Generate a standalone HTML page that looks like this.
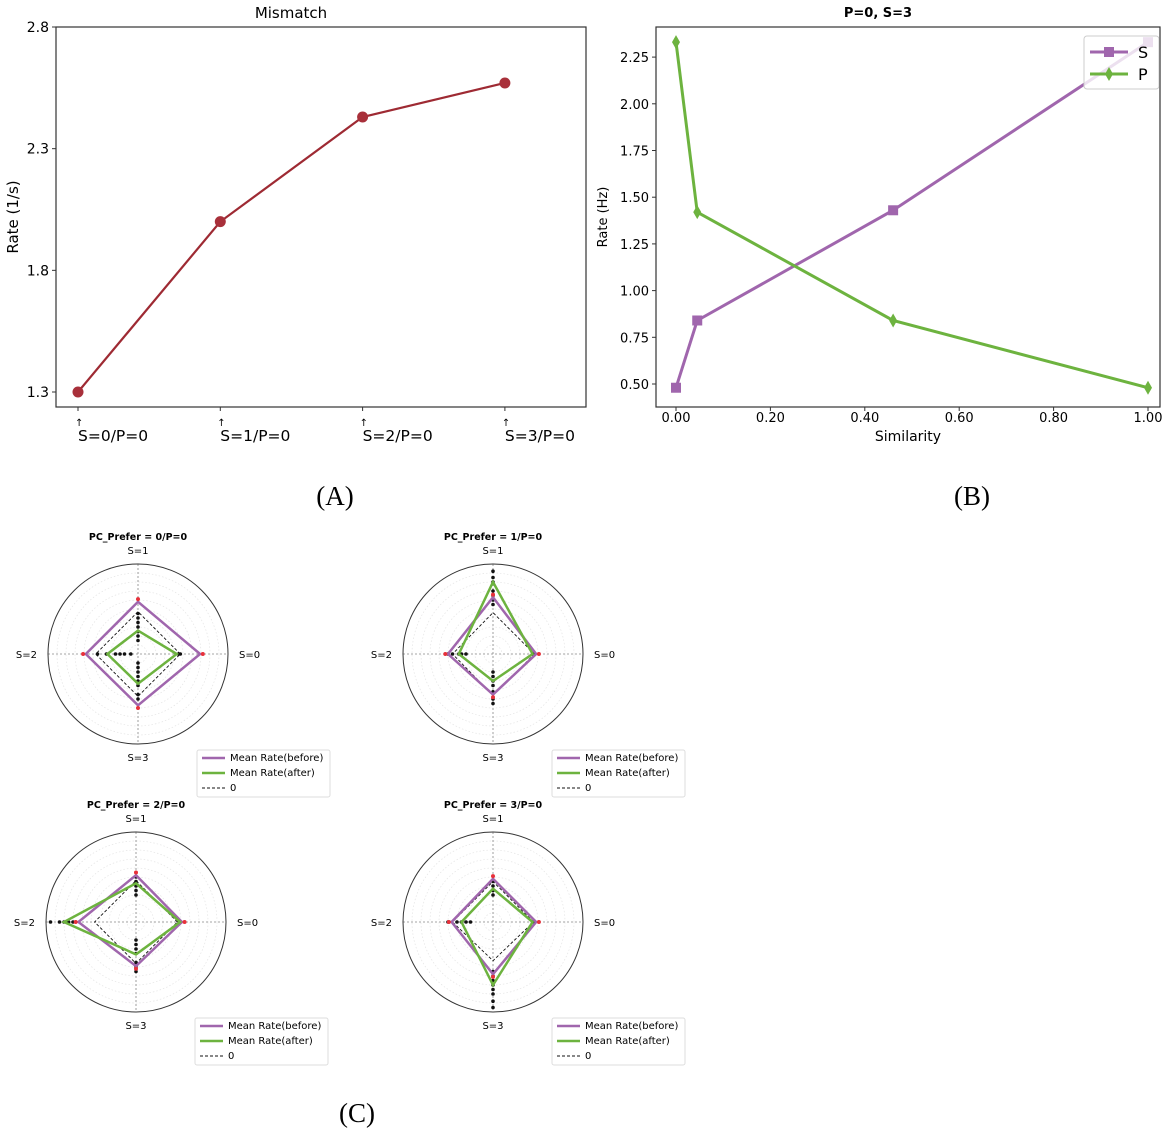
<!DOCTYPE html>
<html><head><meta charset="utf-8"><style>
body{margin:0;background:#fff;}
svg{display:block;font-family:"DejaVu Sans","Liberation Sans",sans-serif;}
</style></head><body>
<svg id="fig" width="1170" height="1136" viewBox="0 0 1170 1136" xmlns="http://www.w3.org/2000/svg">
<g id="pa"></g>
<g id="pb"></g>
<g id="pc"></g>
<text x="335" y="505" font-family="Liberation Serif,serif" font-size="27" text-anchor="middle">(A)</text>
<text x="972" y="505" font-family="Liberation Serif,serif" font-size="27" text-anchor="middle">(B)</text>
<text x="357" y="1122" font-family="Liberation Serif,serif" font-size="27" text-anchor="middle">(C)</text>
</svg>
<script>
// ---- Panel A data
const aCategories = ["S=0/P=0","S=1/P=0","S=2/P=0","S=3/P=0"];
const aValues = [1.30, 2.00, 2.43, 2.57];
const aTicks = [1.3, 1.8, 2.3, 2.8];
// ---- Panel B data
const bSimilarity = [0.0, 0.045, 0.46, 1.0];
const bS = [0.48, 0.84, 1.43, 2.33];
const bP = [2.33, 1.42, 0.84, 0.48];
const bYTicks = [0.50, 0.75, 1.00, 1.25, 1.50, 1.75, 2.00, 2.25];
const bXTicks = [0.0, 0.2, 0.4, 0.6, 0.8, 1.0];
// ---- Panel C data (fraction of radius), axes order S=0,S=1,S=2,S=3
const cTitles = ["PC_Prefer = 0/P=0","PC_Prefer = 1/P=0","PC_Prefer = 2/P=0","PC_Prefer = 3/P=0"];
const cBefore = [[0.69,0.58,0.58,0.57],[0.48,0.63,0.50,0.45],[0.51,0.52,0.64,0.49],[0.48,0.48,0.46,0.58]];
const cAfter = [[0.43,0.26,0.34,0.33],[0.44,0.80,0.38,0.30],[0.49,0.43,0.80,0.36],[0.44,0.37,0.35,0.70]];
const cZero = [[0.47,0.47,0.47,0.47],[0.46,0.46,0.45,0.46],[0.46,0.46,0.46,0.46],[0.45,0.45,0.45,0.43]];
const cDots = [
 [[0.45,0.47],[0.15,0.2,0.25,0.3,0.35,0.4,0.45],[0.08,0.15,0.2,0.25,0.35,0.45],[0.1,0.15,0.2,0.25,0.3,0.35,0.45,0.5]],
 [[0.44,0.46],[0.55,0.6,0.65,0.7,0.8,0.85,0.92],[0.3,0.35,0.38,0.45,0.5],[0.2,0.25,0.3,0.35,0.42,0.5,0.55]],
 [[0.48,0.5],[0.3,0.35,0.4,0.45,0.5],[0.7,0.75,0.8,0.85,0.95],[0.2,0.25,0.3,0.35,0.45,0.5,0.55]],
 [[0.44,0.46],[0.3,0.35,0.4,0.45],[0.25,0.3,0.35,0.4,0.5],[0.55,0.6,0.65,0.7,0.75,0.8,0.88,0.95]]
];
const cAxisLabels = ["S=0","S=1","S=2","S=3"];

const NS="http://www.w3.org/2000/svg";
function mk(parent,tag,attrs,text){const e=document.createElementNS(NS,tag);for(const k in attrs)e.setAttribute(k,attrs[k]);if(text!==undefined)e.textContent=text;parent.appendChild(e);return e;}

// ===== Panel A
(function(){
 const g=document.getElementById('pa');
 const L=56,R=586,T=27,B=407;
 const y=v=>27+(2.8-v)/1.5*365;
 const x=i=>78+i*142.3;
 let e=mk(g,'rect',{x:L,y:T,width:R-L,height:B-T,fill:'none',stroke:'#333','stroke-width':1.2});
 
 e=mk(g,'text',{x:(L+R)/2-30,y:18,'font-size':15,'text-anchor':'middle'},'Mismatch');
 
 e=mk(g,'text',{x:0,y:0,'font-size':15,'text-anchor':'middle',transform:'translate(18,217) rotate(-90)'},'Rate (1/s)');
 
 aTicks.forEach(t=>{
  mk(g,'line',{x1:L-4,x2:L,y1:y(t),y2:y(t),stroke:'#333'});
  e=mk(g,'text',{x:L-7,y:y(t)+5,'font-size':14,'text-anchor':'end'},t.toFixed(1));
  
 });
 aCategories.forEach((c,i)=>{
  mk(g,'line',{x1:x(i),x2:x(i),y1:B,y2:B+4,stroke:'#333'});
  e=mk(g,'text',{x:x(i)-3,y:426,'font-size':10,'text-anchor':'start'},'↑');
  e=mk(g,'text',{x:x(i),y:441,'font-size':15.5,'text-anchor':'start'},c);
  
 });
 e=mk(g,'polyline',{points:aValues.map((v,i)=>x(i)+','+y(v)).join(' '),fill:'none',stroke:'#9e2a33','stroke-width':2.2});
 
 aValues.forEach((v,i)=>{
  e=mk(g,'circle',{cx:x(i),cy:y(v),r:5.5,fill:'#a8303a'});
  
 });
})();

// ===== Panel B
(function(){
 const g=document.getElementById('pb');
 const L=656,R=1160,T=27,B=407;
 const x=v=>676+v*472;
 const y=v=>384-(v-0.5)/0.25*46.7;
 let e=mk(g,'rect',{x:L,y:T,width:R-L,height:B-T,fill:'none',stroke:'#333','stroke-width':1.2});
 
 e=mk(g,'text',{x:(L+R)/2-30,y:17,'font-size':13,'font-weight':'bold','text-anchor':'middle'},'P=0, S=3');
 
 e=mk(g,'text',{x:0,y:0,'font-size':13,'text-anchor':'middle',transform:'translate(607,217) rotate(-90)'},'Rate (Hz)');
 
 e=mk(g,'text',{x:908,y:441,'font-size':14,'text-anchor':'middle'},'Similarity');
 
 bYTicks.forEach(t=>{
  mk(g,'line',{x1:L-4,x2:L,y1:y(t),y2:y(t),stroke:'#333'});
  e=mk(g,'text',{x:L-7,y:y(t)+5,'font-size':13,'text-anchor':'end'},t.toFixed(2));
  
 });
 bXTicks.forEach(t=>{
  mk(g,'line',{x1:x(t),x2:x(t),y1:B,y2:B+4,stroke:'#333'});
  e=mk(g,'text',{x:x(t),y:422,'font-size':13,'text-anchor':'middle'},t.toFixed(2));
  
 });
 e=mk(g,'polyline',{points:bSimilarity.map((s,i)=>x(s)+','+y(bS[i])).join(' '),fill:'none',stroke:'#a066ad','stroke-width':3});
 
 bSimilarity.forEach((s,i)=>{
  e=mk(g,'rect',{x:x(s)-5,y:y(bS[i])-5,width:10,height:10,fill:'#a066ad'});
  
 });
 e=mk(g,'polyline',{points:bSimilarity.map((s,i)=>x(s)+','+y(bP[i])).join(' '),fill:'none',stroke:'#6db33f','stroke-width':3});
 
 bSimilarity.forEach((s,i)=>{
  e=mk(g,'polygon',{points:`${x(s)},${y(bP[i])-7} ${x(s)+4},${y(bP[i])} ${x(s)},${y(bP[i])+7} ${x(s)-4},${y(bP[i])}`,fill:'#6db33f'});
  
 });
 const lg=mk(g,'g',{});
 
 mk(lg,'rect',{x:1084,y:36,width:75,height:53,rx:3,fill:'rgba(255,255,255,0.8)',stroke:'#ccc'});
 mk(lg,'line',{x1:1090,x2:1128,y1:52,y2:52,stroke:'#a066ad','stroke-width':3});
 mk(lg,'rect',{x:1104,y:47,width:10,height:10,fill:'#a066ad'});
 e=mk(lg,'text',{x:1138,y:58,'font-size':16},'S');
 
 mk(lg,'line',{x1:1090,x2:1128,y1:74,y2:74,stroke:'#6db33f','stroke-width':3});
 mk(lg,'polygon',{points:'1109,67 1113,74 1109,81 1105,74',fill:'#6db33f'});
 e=mk(lg,'text',{x:1138,y:80,'font-size':16},'P');
 
})();

// ===== Panel C
(function(){
 const root=document.getElementById('pc');
 const centers=[[138,654],[493,654],[136,922],[493,922]];
 const r=90;
 const ang=[0,-Math.PI/2,Math.PI,Math.PI/2];
 cTitles.forEach((title,k)=>{
  const [cx,cy]=centers[k];
  const g=mk(root,'g',{});
  
  const pt=(f,j)=>[cx+Math.cos(ang[j])*f*r,cy+Math.sin(ang[j])*f*r];
  for(let i=1;i<=9;i++) mk(g,'circle',{cx,cy,r:r*i/10,fill:'none',stroke:'#e4e4e4','stroke-width':0.7,'stroke-dasharray':'1.5 2'});
  mk(g,'line',{x1:cx-r,x2:cx+r,y1:cy,y2:cy,stroke:'#888','stroke-width':0.8,'stroke-dasharray':'2 2'});
  mk(g,'line',{x1:cx,x2:cx,y1:cy-r,y2:cy+r,stroke:'#888','stroke-width':0.8,'stroke-dasharray':'2 2'});
  let e=mk(g,'circle',{cx,cy,r,fill:'none',stroke:'#333','stroke-width':1});
  
  e=mk(g,'text',{x:cx,y:cy-114,'font-size':9.5,'font-weight':'bold','text-anchor':'middle'},title);
  
  const lp=[[cx+101,cy+4,'start'],[cx,cy-100,'middle'],[cx-101,cy+4,'end'],[cx,cy+107,'middle']];
  cAxisLabels.forEach((l,j)=>{
   e=mk(g,'text',{x:lp[j][0],y:lp[j][1],'font-size':10,'text-anchor':lp[j][2]},l);
   
  });
  const poly=(arr,attrs,name)=>{const p=arr.map((f,j)=>pt(f,j).join(',')).join(' ');const el=mk(g,'polygon',Object.assign({points:p,fill:'none'},attrs));};
  poly(cZero[k],{stroke:'#111','stroke-width':0.9,'stroke-dasharray':'3 2'},'zero-line');
  cDots[k].forEach((list,j)=>list.forEach(f=>{const [px,py]=pt(f,j);const d=mk(g,'circle',{cx:px,cy:py,r:1.8,fill:'#111'});}));
  poly(cBefore[k],{stroke:'#a066ad','stroke-width':2.5},'mean-rate-before');
  poly(cAfter[k],{stroke:'#6db33f','stroke-width':2.5},'mean-rate-after');
  cBefore[k].forEach((f,j)=>{const [px,py]=pt(f+0.03,j);const d=mk(g,'circle',{cx:px,cy:py,r:2,fill:'#e8303a'});});
  const lx=cx+59, ly=cy+96;
  const lg=mk(g,'g',{});
  
  mk(lg,'rect',{x:lx,y:ly,width:133,height:47,rx:2,fill:'#fff',stroke:'#ddd'});
  mk(lg,'line',{x1:lx+5,x2:lx+28,y1:ly+8,y2:ly+8,stroke:'#a066ad','stroke-width':2.5});
  mk(lg,'text',{x:lx+33,y:ly+11,'font-size':10},'Mean Rate(before)');
  mk(lg,'line',{x1:lx+5,x2:lx+28,y1:ly+23,y2:ly+23,stroke:'#6db33f','stroke-width':2.5});
  mk(lg,'text',{x:lx+33,y:ly+26,'font-size':10},'Mean Rate(after)');
  mk(lg,'line',{x1:lx+5,x2:lx+28,y1:ly+38,y2:ly+38,stroke:'#111','stroke-width':1,'stroke-dasharray':'3 2'});
  mk(lg,'text',{x:lx+33,y:ly+41,'font-size':10},'0');
 });
})();
</script>
</body></html>
